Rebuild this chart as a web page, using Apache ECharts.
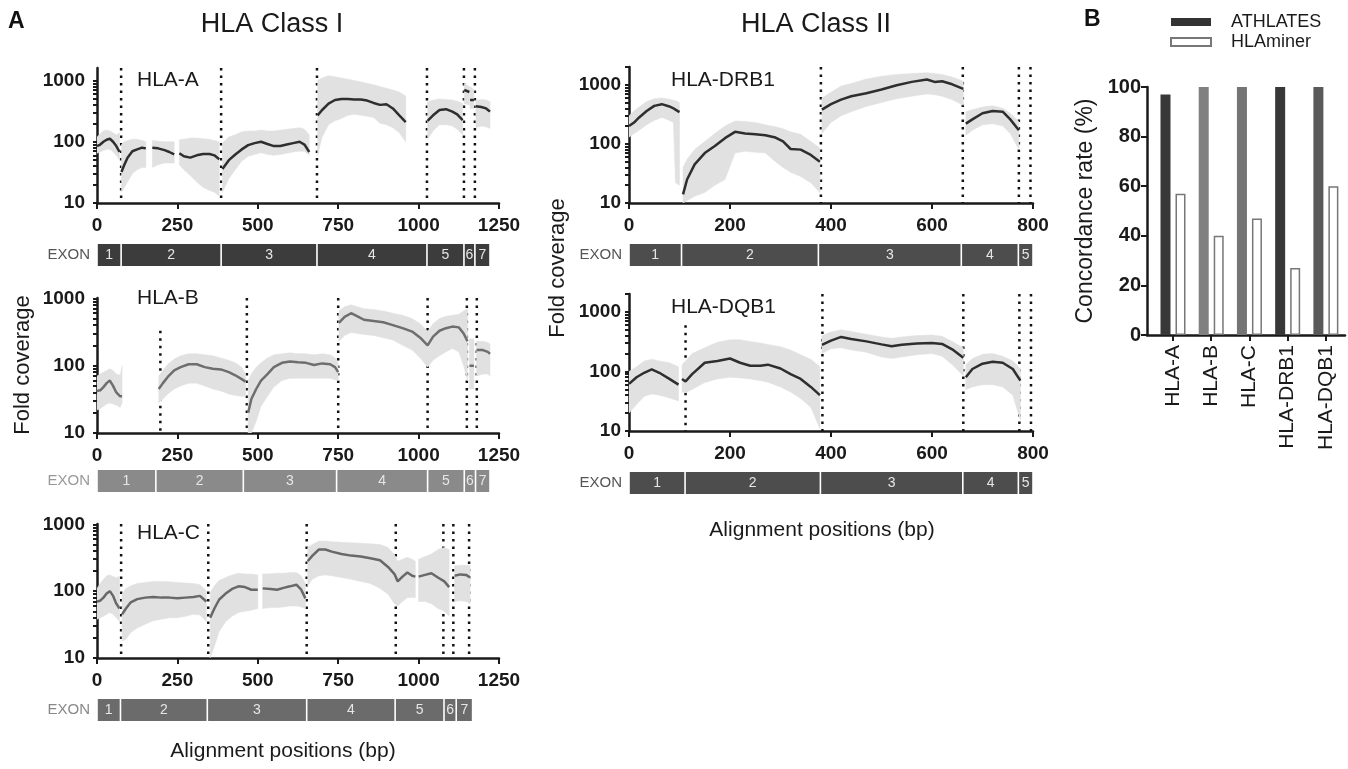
<!DOCTYPE html>
<html>
<head>
<meta charset="utf-8">
<script src="https://cdn.jsdelivr.net/npm/echarts@6/dist/echarts.min.js"></script>
<style>
  html, body { margin: 0; padding: 0; background: #fff; }
  #main { width: 1348px; height: 769px; }
</style>
</head>
<body>
<div id="main"></div>
<script>
// coverage profiles: position (bp), mean, lower and upper band. null position = gap
const aPos  = [0,10,20,30,40,50,60,70, null, 76,85,95,110,125,140,152, null, 172,190,210,225,240, null, 256,270,290,310,330,350,365,380, null, 390,410,430,450,470,490,510,530,550,570,590,610,630,645,660, null, 686,700,720,740,760,780,800,820,840,860,880,900,920,940,960, null, 1028,1045,1065,1085,1105,1120,1137, null, 1142,1158, null, 1160,1172, null, 1178,1195,1210,1222];
const aMean = [85,90,100,108,112,100,85,68, null, 32,42,55,70,75,80,78, null, 80,78,73,68,62, null, 65,58,55,60,63,63,60,52, null, 36,50,62,75,88,95,100,92,85,85,90,95,100,90,68, null, 270,330,420,480,500,500,490,490,470,430,400,410,350,270,210, null, 220,270,330,340,310,280,225, null, 700,650, null, 480,480, null, 380,370,350,310];
const aLo   = [65,68,72,75,75,68,60,50, null, 15,18,22,30,35,38,38, null, 38,42,45,45,45, null, 42,35,28,22,18,16,15,13, null, 15,25,35,48,58,62,66,62,60,62,65,68,70,70,60, null, 60,120,190,220,240,270,280,270,260,250,200,190,170,140,100, null, 110,150,190,190,180,160,130, null, 420,400, null, 350,350, null, 170,180,175,165];
const aHi   = [120,135,150,155,150,140,130,140, null, 90,100,105,110,110,105,100, null, 105,102,100,100,100, null, 108,110,115,115,112,110,105,100, null, 95,120,130,145,150,150,155,150,150,155,160,165,170,160,130, null, 1000,1100,1200,1150,1100,1050,1000,950,900,850,800,750,700,650,560, null, 450,480,500,490,480,460,420, null, 900,800, null, 800,700, null, 480,490,480,450];
const aDots = [75, 386, 684, 1026, 1141, 1175];
const aExon = [0, 75, 386, 684, 1026, 1141, 1175, 1222];

const bPos  = [0,10,20,30,40,50,60,72,78, null, 192,205,220,240,260,285,310,335,360,385,410,430,450,462, null, 470,480,495,510,530,550,575,600,625,650,675,700,725,740,750, null, 752,770,790,810,830,860,890,920,950,980,1005,1028,1045,1065,1085,1105,1125,1140,1152, null, 1158,1172, null, 1180,1200,1215,1222];
const bMean = [42,43,48,55,60,50,40,35,35, null, 45,55,68,85,95,105,105,95,90,88,80,72,63,58, null, 20,32,45,60,75,95,110,115,112,110,102,108,105,95,80, null, 430,530,600,540,480,460,440,400,360,320,260,200,270,330,360,380,370,300,230, null, 100,100, null, 170,170,160,150];
const bLo   = [22,23,25,27,28,27,26,24,28, null, 28,32,38,45,50,55,55,50,45,42,38,36,35,35, null, 10,10,15,25,35,48,60,65,65,65,65,65,65,62,60, null, 230,280,310,300,290,280,260,240,200,170,130,95,120,140,160,180,160,100,60, null, 45,45, null, 70,75,75,70];
const bHi   = [70,75,80,85,90,85,75,72,100, null, 70,85,105,125,140,150,150,145,140,130,120,110,95,75, null, 60,75,95,110,130,145,150,155,150,150,145,150,145,130,110, null, 650,750,800,750,700,680,650,600,560,500,420,320,420,500,540,560,580,650,700, null, 250,250, null, 230,230,220,210];
const bDots = [197, 466, 750, 1028, 1150, 1181];
const bDotTop = [330, null, null, null, null, null];
const bExon = [0, 183, 455, 745, 1028, 1142, 1177, 1222];

const cPos  = [0,10,20,30,40,50,60,70, null, 78,90,105,125,150,175,200,225,250,275,300,320,333,340, null, 352,365,380,400,420,440,460,480,500, null, 515,540,560,580,600,620,635,648, null, 655,670,690,710,730,760,790,820,850,880,905,925,935,950,965,980,990, null, 1000,1020,1040,1060,1080,1095, null, 1112,1130,1148,1160];
const cMean = [70,72,80,92,100,85,65,55, null, 45,55,68,76,80,82,80,80,78,80,82,85,75,70, null, 40,55,75,92,108,118,115,105,105, null, 110,108,105,112,118,125,105,78, null, 280,340,420,420,390,360,340,330,310,290,230,180,140,165,190,170,165, null, 165,175,185,160,140,115, null, 170,178,175,160];
const cLo   = [38,40,42,45,48,45,40,35, null, 18,19,24,28,32,36,38,40,40,42,45,44,38,35, null, 10,15,25,35,42,48,50,52,55, null, 55,57,57,58,60,60,58,55, null, 120,150,170,175,170,160,150,140,130,110,90,65,60,70,80,80,80, null, 70,70,65,55,50,42, null, 70,72,70,65];
const cHi   = [110,130,150,170,175,165,160,165, null, 90,110,120,130,135,140,140,138,135,132,130,125,110,100, null, 95,120,145,160,175,185,180,180,175, null, 180,182,185,185,190,190,170,130, null, 450,500,560,560,550,540,530,520,510,500,450,350,280,300,320,300,280, null, 300,330,360,420,450,420, null, 240,245,245,240];
const cDots = [75, 346, 652, 929, 1077, 1108, 1157];
const cExon = [0, 73, 343, 652, 927, 1079, 1117, 1168];

const dPos  = [0,10,20,35,50,65,80,88,92,100, null, 107,115,130,150,170,190,210,230,250,270,290,305,320,340,360,378, null, 382,400,420,440,470,500,530,560,590,605,620,640,662, null, 667,680,700,720,740,755,772];
const dMean = [200,230,280,360,440,470,430,400,380,345, null, 14,25,45,70,92,125,160,150,145,140,128,110,82,80,65,50, null, 380,470,560,640,720,830,980,1120,1230,1120,1150,1020,850, null, 220,260,330,360,350,260,170];
const dLo   = [130,150,170,210,250,280,250,230,22,20, null, 10,11,13,15,20,25,70,75,72,70,50,40,33,28,22,15, null, 150,230,300,350,430,500,580,640,700,680,640,560,450, null, 140,170,210,220,200,150,80];
const dHi   = [300,360,420,520,580,600,570,550,540,500, null, 40,55,80,110,150,200,245,240,230,210,195,180,160,145,110,85, null, 600,750,950,1050,1250,1400,1500,1550,1600,1550,1500,1350,1150, null, 350,380,420,440,400,330,240];
const dDots = [380, 661, 772, 795];
const dExon = [0, 104, 375, 658, 771, 800];

const qPos  = [0,15,30,45,60,80,98, null, 105,112,125,150,175,200,220,240,260,275,300,320,340,360,378, null, 382,400,420,440,470,500,520,540,570,600,620,640,662, null, 667,680,700,720,740,760,775];
const qMean = [62,80,95,108,95,75,60, null, 75,68,90,140,150,165,140,125,125,130,112,90,75,55,40, null, 280,330,380,350,320,285,265,280,295,300,290,235,170, null, 80,110,135,145,140,110,70];
const qLo   = [20,28,38,42,40,36,32, null, 45,44,50,65,75,80,78,75,70,66,55,45,35,25,11, null, 200,240,250,230,210,175,165,175,190,200,180,130,85, null, 50,55,60,60,55,40,15];
const qHi   = [100,120,150,160,150,140,120, null, 130,150,200,250,310,340,340,320,300,285,260,230,190,160,120, null, 400,460,500,470,420,380,360,380,400,410,390,320,250, null, 130,165,195,200,180,150,110];
const qDots = [112, 383, 662, 773, 796];
const qDotTop = [600, null, null, null, null];
const qExon = [0, 111, 379, 661, 771, 800];

const exonNames = ['1', '2', '3', '4', '5', '6', '7'];
const yMajor = [10, 100, 1000];
const yMinor = [20, 30, 40, 50, 60, 70, 80, 90, 200, 300, 400, 500, 600, 700, 800, 900, 2000];

// panel B
const genes = ['HLA-A', 'HLA-B', 'HLA-C', 'HLA-DRB1', 'HLA-DQB1'];
const athlates = [97, 100, 100, 100, 100];
const hlaminer = [57, 40, 47, 27, 60];
const athColors = ['#383838', '#808080', '#747474', '#383838', '#5a5a5a'];

const FONT = '"Liberation Sans", Arial, Helvetica, sans-serif';

const panels = [
  { name: 'HLA-A', pos: aPos, mean: aMean, lo: aLo, hi: aHi, dots: aDots, dotTop: [], exon: aExon,
    xMax: 1250, xStep: 250, yMax: 1600, left: 97, top: 68, width: 402, height: 135, exonTop: 244,
    labelY: 82, lineColor: '#2e2e2e', exonColor: '#3c3c3c', exonLabel: '#555', margin: 12 },
  { name: 'HLA-B', pos: bPos, mean: bMean, lo: bLo, hi: bHi, dots: bDots, dotTop: bDotTop, exon: bExon,
    xMax: 1250, xStep: 250, yMax: 1010, left: 97, top: 298, width: 402, height: 135, exonTop: 470,
    labelY: 300, lineColor: '#6e6e6e', exonColor: '#8a8a8a', exonLabel: '#999', margin: 12 },
  { name: 'HLA-C', pos: cPos, mean: cMean, lo: cLo, hi: cHi, dots: cDots, dotTop: [], exon: cExon,
    xMax: 1250, xStep: 250, yMax: 1010, left: 97, top: 524, width: 402, height: 134, exonTop: 699,
    labelY: 535, lineColor: '#686868', exonColor: '#6b6b6b', exonLabel: '#888', margin: 12 },
  { name: 'HLA-DRB1', pos: dPos, mean: dMean, lo: dLo, hi: dHi, dots: dDots, dotTop: [], exon: dExon,
    xMax: 800, xStep: 200, yMax: 2000, left: 629, top: 67, width: 404, height: 136, exonTop: 244,
    labelY: 82, lineColor: '#2e2e2e', exonColor: '#4d4d4d', exonLabel: '#555', margin: 8 },
  { name: 'HLA-DQB1', pos: qPos, mean: qMean, lo: qLo, hi: qHi, dots: qDots, dotTop: qDotTop, exon: qExon,
    xMax: 800, xStep: 200, yMax: 2000, left: 629, top: 294, width: 404, height: 137, exonTop: 472,
    labelY: 309, lineColor: '#2e2e2e', exonColor: '#4d4d4d', exonLabel: '#555', margin: 8 }
];

function segmentsOf(pos) {
  const segs = [];
  let start = null;
  pos.forEach((p, i) => {
    if (p == null) {
      if (start != null) { segs.push([start, i - 1]); start = null; }
    } else if (start == null) {
      start = i;
    }
  });
  if (start != null) segs.push([start, pos.length - 1]);
  return segs;
}

const axisLine = { show: true, onZero: false, lineStyle: { color: '#1a1a1a', width: 2.5 } };
const tickFont = { fontFamily: FONT, fontWeight: 'bold', fontSize: 19, color: '#1a1a1a', formatter: v => String(v) };

const grid = [], xAxis = [], yAxis = [], series = [], graphic = [];

panels.forEach((p, k) => {
  const g = 2 * k;
  grid.push({ left: p.left, top: p.top, width: p.width, height: p.height });
  grid.push({ left: p.left, top: p.exonTop, width: p.width, height: 22 });

  xAxis.push({
    gridIndex: g, type: 'value', min: 0, max: p.xMax, interval: p.xStep,
    axisLine: axisLine, splitLine: { show: false },
    axisTick: { length: 6, lineStyle: { width: 2, color: '#1a1a1a' } },
    axisLabel: Object.assign({ margin: 13 }, tickFont)
  });
  xAxis.push({ gridIndex: g + 1, type: 'value', min: 0, max: p.xMax, show: false });

  const ticks = yMajor.concat(yMinor.filter(v => v <= p.yMax));
  yAxis.push({
    gridIndex: g, type: 'log', logBase: 10, min: 10, max: p.yMax, position: 'left',
    axisLine: axisLine, splitLine: { show: false },
    axisTick: { customValues: ticks, length: 4, lineStyle: { width: 2, color: '#1a1a1a' } },
    axisLabel: Object.assign({ customValues: yMajor, margin: p.margin }, tickFont)
  });
  yAxis.push({ gridIndex: g + 1, type: 'value', min: 0, max: 1, show: false });

  const yi = 2 * k;
  const segs = segmentsOf(p.pos);

  // exon boundary dotted lines
  series.push({
    type: 'custom', xAxisIndex: g, yAxisIndex: yi, z: 1, silent: true,
    data: p.dots.map((d, i) => [d, p.dotTop[i] || p.yMax]),
    renderItem: (params, api) => {
      const a = api.coord([api.value(0), api.value(1)]);
      const b = api.coord([api.value(0), 10]);
      return {
        type: 'line',
        shape: { x1: a[0], y1: a[1], x2: b[0], y2: b[1] },
        style: { stroke: '#111', lineWidth: 2.5, lineDash: [2.5, 5] }
      };
    }
  });

  // shaded range
  series.push({
    type: 'custom', xAxisIndex: g, yAxisIndex: yi, z: 2, silent: true, clip: true,
    data: segs.map((s, i) => [p.pos[s[0]], p.hi[s[0]], i]),
    encode: { x: 0, y: 1 },
    renderItem: (params, api) => {
      const s = segs[api.value(2)];
      const pts = [];
      for (let i = s[0]; i <= s[1]; i++) pts.push(api.coord([p.pos[i], p.hi[i]]));
      for (let i = s[1]; i >= s[0]; i--) pts.push(api.coord([p.pos[i], p.lo[i]]));
      return { type: 'polygon', shape: { points: pts }, style: { fill: '#e1e1e1', stroke: '#e1e1e1', lineWidth: 0.5 } };
    }
  });

  // mean coverage
  series.push({
    type: 'line', xAxisIndex: g, yAxisIndex: yi, z: 3, silent: true,
    symbol: 'none', connectNulls: false,
    lineStyle: { color: p.lineColor, width: 2.5 },
    data: p.pos.map((x, i) => x == null ? ['-', '-'] : [x, p.mean[i]])
  });

  // exon track
  series.push({
    type: 'custom', xAxisIndex: g + 1, yAxisIndex: yi + 1, silent: true,
    data: p.exon.slice(0, -1).map((s, i) => [s, p.exon[i + 1]]),
    encode: { x: [0, 1] },
    renderItem: (params, api) => {
      const a = api.coord([api.value(0), 1]);
      const b = api.coord([api.value(1), 0]);
      return {
        type: 'group',
        children: [
          { type: 'rect', shape: { x: a[0] + 0.8, y: a[1], width: b[0] - a[0] - 1.6, height: b[1] - a[1] },
            style: { fill: p.exonColor } },
          { type: 'text', style: { text: exonNames[params.dataIndex], x: (a[0] + b[0]) / 2, y: (a[1] + b[1]) / 2,
            align: 'center', verticalAlign: 'middle', textAlign: 'center', textVerticalAlign: 'middle',
            fill: '#e6e6e6', font: '14px ' + FONT } }
        ]
      };
    }
  });

  graphic.push({ type: 'text', left: p.left + (p.left > 300 ? 42 : 40), top: p.labelY - 12,
    style: { text: p.name, font: '21px ' + FONT, fill: '#1a1a1a' } });
  graphic.push({ type: 'text', right: 1348 - p.left + 7, top: p.exonTop + 3,
    style: { text: 'EXON', font: '15px ' + FONT, fill: p.exonLabel } });
});

// panel B grid
grid.push({ left: 1147, top: 87, width: 198, height: 248 });
xAxis.push({
  gridIndex: 10, type: 'value', min: -0.68, max: 4.5,
  axisLine: axisLine, splitLine: { show: false },
  axisTick: { customValues: [0, 1, 2, 3, 4], length: 6, lineStyle: { width: 2, color: '#1a1a1a' } },
  axisLabel: { customValues: [0, 1, 2, 3, 4], rotate: 90, margin: 10, fontFamily: FONT, fontSize: 21, color: '#1a1a1a',
    formatter: v => genes[Math.round(v)] }
});
yAxis.push({
  gridIndex: 10, type: 'value', min: 0, max: 100, interval: 20,
  axisLine: axisLine, splitLine: { show: false },
  axisTick: { length: 6, lineStyle: { width: 2, color: '#1a1a1a' } },
  axisLabel: Object.assign({ margin: 6 }, tickFont, { fontSize: 20 }),
  name: 'Concordance rate (%)', nameLocation: 'middle', nameGap: 50,
  nameTextStyle: { fontFamily: FONT, fontSize: 23, color: '#1a1a1a' }
});
series.push({
  name: 'ATHLATES', type: 'bar', xAxisIndex: 10, yAxisIndex: 10, barWidth: 10, barGap: '50%',
  itemStyle: { color: '#333' },
  data: athlates.map((v, i) => ({ value: [i, v], itemStyle: { color: athColors[i] } }))
});
series.push({
  name: 'HLAminer', type: 'bar', xAxisIndex: 10, yAxisIndex: 10, barWidth: 10, barGap: '50%',
  itemStyle: { color: '#fff', borderColor: '#777', borderWidth: 1.5 },
  data: hlaminer.map((v, i) => [i, v])
});

// titles and axis names
const centered = { align: 'center', verticalAlign: 'middle', textAlign: 'center', textVerticalAlign: 'middle', fill: '#1a1a1a' };
graphic.push(
  { type: 'text', left: 8, top: 10, style: { text: 'A', font: 'bold 23px ' + FONT, fill: '#111' } },
  { type: 'text', left: 1084, top: 8, style: { text: 'B', font: 'bold 23px ' + FONT, fill: '#111' } },
  { type: 'text', x: 272, y: 25, style: Object.assign({ text: 'HLA Class I', font: '27px ' + FONT }, centered) },
  { type: 'text', x: 816, y: 25, style: Object.assign({ text: 'HLA Class II', font: '27px ' + FONT }, centered) },
  { type: 'text', x: 23, y: 365, rotation: Math.PI / 2, style: Object.assign({ text: 'Fold coverage', font: '22px ' + FONT }, centered) },
  { type: 'text', x: 558, y: 268, rotation: Math.PI / 2, style: Object.assign({ text: 'Fold coverage', font: '22px ' + FONT }, centered) },
  { type: 'text', x: 283, y: 751, style: Object.assign({ text: 'Alignment positions (bp)', font: '21px ' + FONT }, centered) },
  { type: 'text', x: 822, y: 530, style: Object.assign({ text: 'Alignment positions (bp)', font: '21px ' + FONT }, centered) }
);

const chart = echarts.init(document.getElementById('main'));
chart.setOption({
  animation: false,
  backgroundColor: '#fff',
  textStyle: { fontFamily: FONT },
  legend: {
    data: ['ATHLATES', 'HLAminer'], orient: 'vertical', left: 1165, top: 7,
    icon: 'rect', itemWidth: 40, itemHeight: 8, itemGap: 0,
    textStyle: { fontFamily: FONT, fontSize: 18, color: '#1a1a1a', lineHeight: 20, padding: [0, 0, 0, 15] }
  },
  grid: grid,
  xAxis: xAxis,
  yAxis: yAxis,
  series: series,
  graphic: graphic
});
</script>
</body>
</html>
